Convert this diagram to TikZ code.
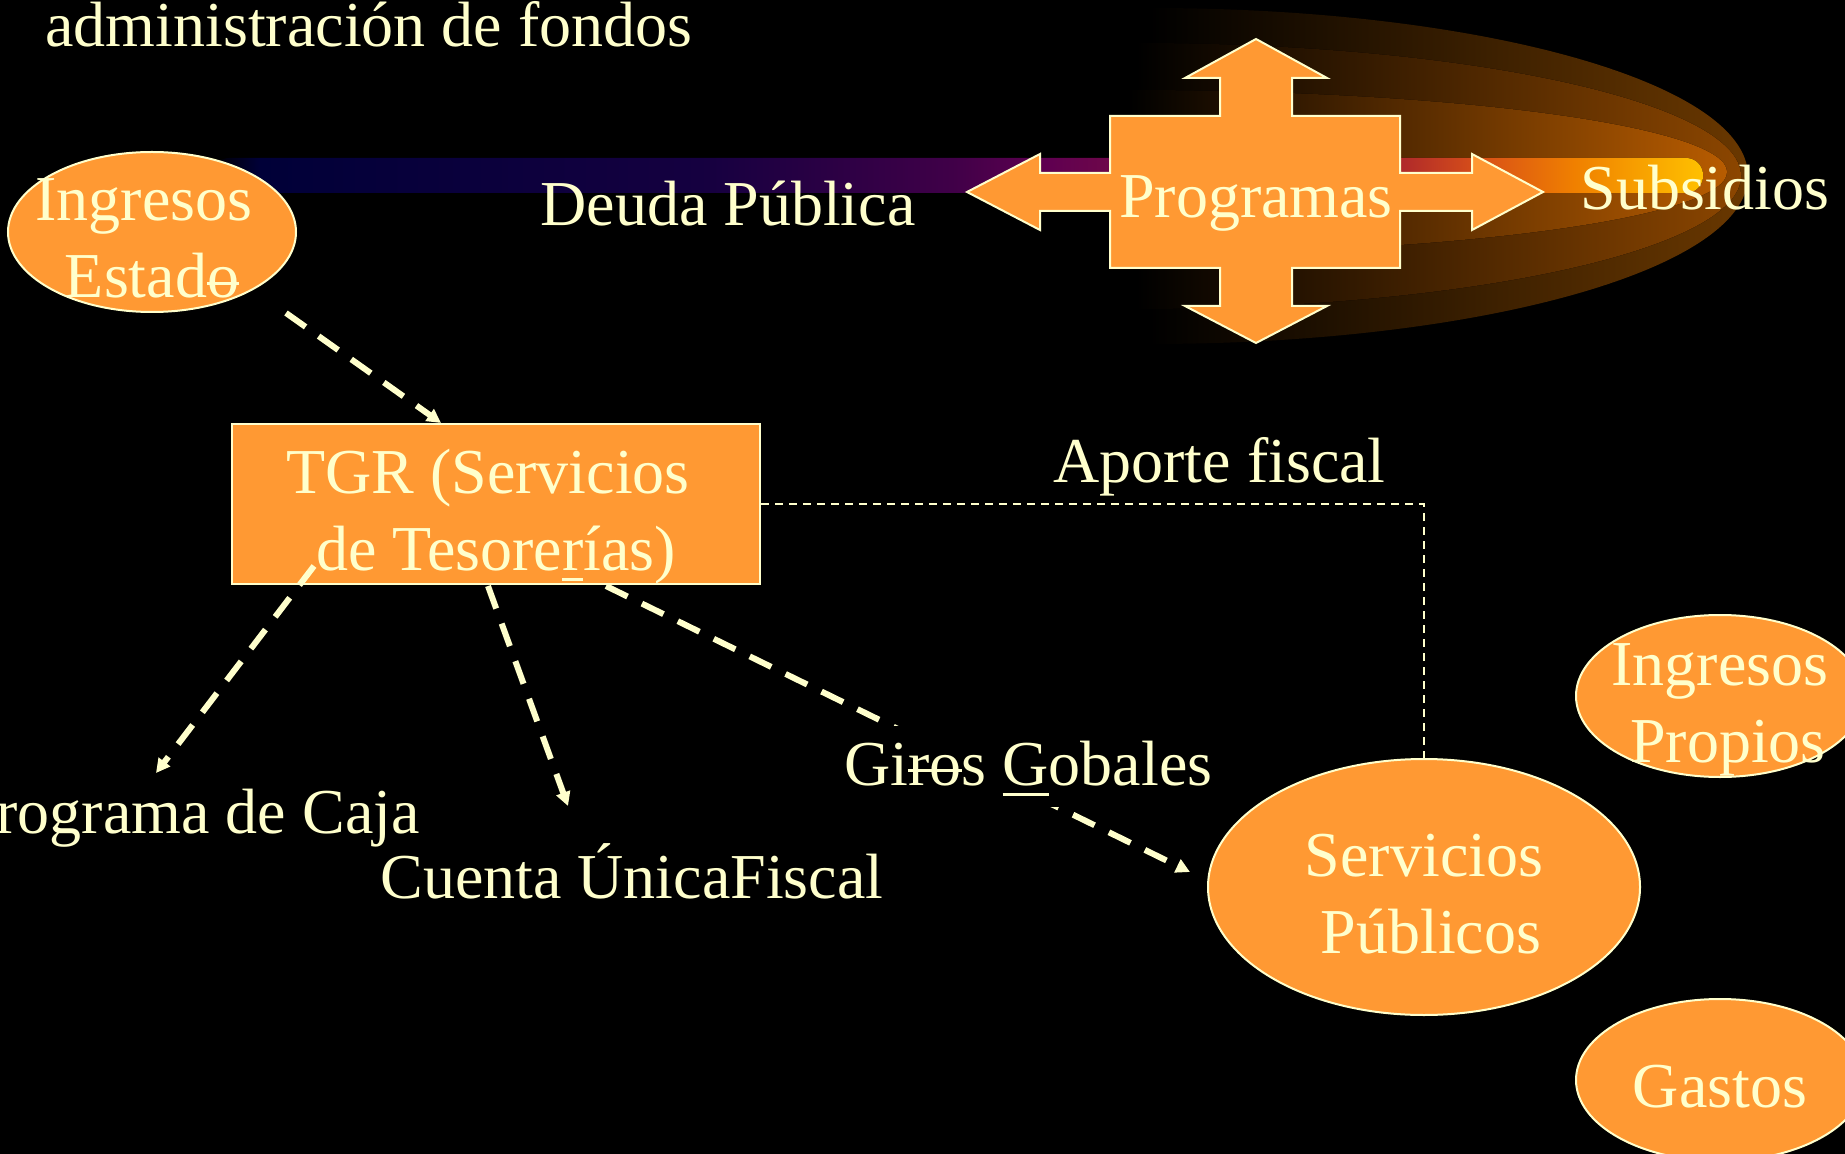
\documentclass[tikz,border=0pt]{standalone}
\usepackage{fontspec}
\setmainfont{Liberation Serif}
\usetikzlibrary{shapes.geometric,arrows.meta}
\definecolor{cream}{HTML}{FFFFCC}
\definecolor{org}{HTML}{FF9933}
\definecolor{glowA}{HTML}{6A3800}
\definecolor{glowB}{HTML}{8C4600}
\definecolor{glowC}{HTML}{B85C00}
\definecolor{b1}{HTML}{000038}
\definecolor{b2}{HTML}{150040}
\definecolor{b3}{HTML}{400048}
\definecolor{b4}{HTML}{600050}
\definecolor{b5}{HTML}{B02A2A}
\definecolor{b6}{HTML}{D85018}
\definecolor{b7}{HTML}{F08000}
\definecolor{b8}{HTML}{FBB000}
\definecolor{b9}{HTML}{FFC000}
\pgfdeclarehorizontalshading{barshade}{100bp}{color(0bp)=(black); color(25bp)=(black); color(26.6bp)=(b1); color(41.4bp)=(b2); color(49.8bp)=(b3); color(53.1bp)=(b4); color(64.9bp)=(b5); color(67.5bp)=(b6); color(70.7bp)=(b7); color(73.9bp)=(b8); color(75bp)=(b9); color(100bp)=(b9)}
\newsavebox\mybox
\newcommand{\mysout}[1]{\sbox\mybox{#1}\rlap{\rule[0.2em]{\wd\mybox}{1.5pt}}\usebox\mybox}
\newcommand{\myul}[1]{\sbox\mybox{#1}\rlap{\rule[-5.5pt]{\wd\mybox}{1.5pt}}\usebox\mybox}
\newcommand{\myln}[1]{\rule[-2.5pt]{0pt}{32.5pt}\smash{#1}}
\begin{document}
\begin{tikzpicture}[x=0.5pt,y=-0.5pt,
  every node/.style={text=cream, font=\fontsize{32}{38.5}\selectfont, inner sep=0pt},
  ell/.style={ellipse, fill=org, draw=cream, line width=1pt},
  txt/.style={align=center},
  tgrbox/.style={rectangle, fill=org, draw=cream, line width=1pt, minimum width=264pt, minimum height=80pt, align=center},
  conn/.style={draw=cream, line width=3pt, dash pattern=on 12pt off 8pt, -{Triangle[length=7pt,width=7pt]}},
  thinconn/.style={draw=cream, line width=1pt, dash pattern=on 4pt off 3pt},
  crossshape/.style={fill=org, draw=cream, line width=1pt}]
\useasboundingbox (0,0) rectangle (1845,1154);
\fill[black] (0,0) rectangle (1845,1154);
% glow layers
\fill[left color=black, right color=glowA] (1150,8) .. controls (1480,8) and (1748,83) .. (1748,176) .. controls (1748,269) and (1480,344) .. (1150,344) -- cycle;
\fill[left color=black, right color=glowB] (1136,43) .. controls (1470,43) and (1741,103) .. (1741,176) .. controls (1741,249) and (1470,309) .. (1136,309) -- cycle;
\fill[left color=black, right color=glowC] (1128,90) .. controls (1459,90) and (1727,127) .. (1727,172) .. controls (1727,217) and (1459,254) .. (1128,254) -- cycle;
% bar
\fill[shading=barshade, rounded corners=8.5pt] (212,158) rectangle (1703,193);
% cross
\filldraw[crossshape] (1256,39) -- (1327,78) -- (1292,78) -- (1292,116) -- (1400,116) -- (1400,173) -- (1472,173) -- (1472,154) -- (1543,192) -- (1472,230) -- (1472,211) -- (1400,211) -- (1400,268) -- (1292,268) -- (1292,306) -- (1327,306) -- (1256,343) -- (1185,306) -- (1220,306) -- (1220,268) -- (1110,268) -- (1110,211) -- (1040,211) -- (1040,230) -- (967,192) -- (1040,154) -- (1040,173) -- (1110,173) -- (1110,116) -- (1220,116) -- (1220,78) -- (1185,78) -- cycle;
% texts
\node[anchor=base west] (title) at (45,47) {administración de fondos};
\node[anchor=base west] (deuda) at (540,226) {Deuda Pública};
\node[anchor=base] (prog) at (1256,218) {Programas};
\node[anchor=base west] (subs) at (1580,210) {Subsidios};
\node[anchor=base west] (aporte) at (1053,482) {Aporte fiscal};
\node[anchor=base east] (caja) at (420,833) {Programa de Caja};
\node[anchor=base west] (cuenta) at (380,898) {Cuenta ÚnicaFiscal};
% ellipses and box
\node[ell, minimum width=144pt, minimum height=80pt] (ie) at (152,232) {};
\node[txt] (iet) at (ie.center) {\myln{Ingresos\kern0.25em}\\\myln{Estad\mysout{o}}};
\node[tgrbox] (tgr) at (496,504) {\myln{TGR (Servicios\kern0.25em}\\\myln{de Tesore\myul{r}ías)}};
\node[ell, minimum width=216pt, minimum height=128pt] (sp) at (1424,887) {};
\node[txt] (spt) at (sp.center) {\myln{Servicios}\\\myln{\kern7pt Públicos}};
\node[ell, minimum width=144pt, minimum height=81pt] (ip) at (1720,696) {};
\node[txt] (ipt) at (ip.center) {\myln{Ingresos}\\\myln{\kern8pt Propios}};
\node[ell, minimum width=144pt, minimum height=81pt] (ga) at (1720,1080) {};
\node[txt] (gat) at (ga.center) {\myln{Gastos}};
% connector ends
\coordinate (c1s) at (286,313); \coordinate (c1e) at (441,423);
\coordinate (c2s) at (314,566); \coordinate (c2e) at (156,773);
\coordinate (c3s) at (488,586); \coordinate (c3e) at (568,806);
\coordinate (c4s) at (606,586); \coordinate (c4e) at (1190,872);
\draw[conn] (c1s) -- (c1e);
\draw[conn] (c2s) -- (c2e);
\draw[conn] (c3s) -- (c3e);
\draw[conn] (c4s) -- (c4e);
\draw[thinconn] (tgr.east) -| (sp.north);
\node[anchor=base west, fill=black, text height=29.5pt, text depth=11pt] (giros) at (844,785) {Gi\mysout{ro}s \myul{G}obales};
\end{tikzpicture}
\end{document}
